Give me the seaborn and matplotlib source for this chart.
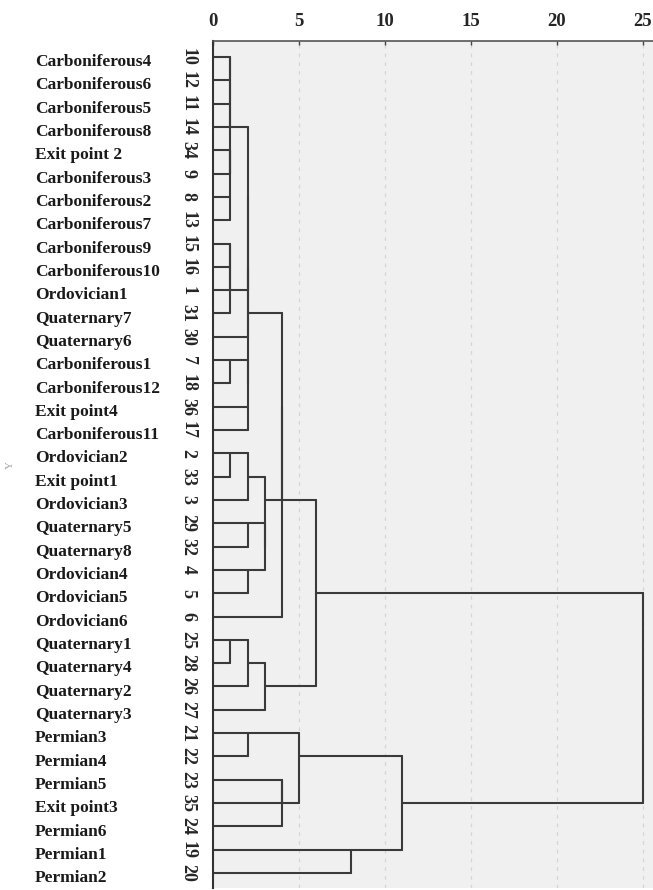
import matplotlib
matplotlib.use("Agg")
import matplotlib.pyplot as plt
import matplotlib.transforms as mtransforms
import seaborn as sns
import pandas as pd

# ---------------- data ----------------
leaf_ids = [10, 12, 11, 14, 34, 9, 8, 13, 15, 16, 1, 31, 30, 7, 18, 36, 17,
            2, 33, 3, 29, 32, 4, 5, 6, 25, 28, 26, 27, 21, 22, 23, 35, 24, 19, 20]

leaf_names = ["Carboniferous4", "Carboniferous6", "Carboniferous5", "Carboniferous8",
              "Exit point 2", "Carboniferous3", "Carboniferous2", "Carboniferous7",
              "Carboniferous9", "Carboniferous10", "Ordovician1", "Quaternary7",
              "Quaternary6", "Carboniferous1", "Carboniferous12", "Exit point4",
              "Carboniferous11", "Ordovician2", "Exit point1", "Ordovician3",
              "Quaternary5", "Quaternary8", "Ordovician4", "Ordovician5", "Ordovician6",
              "Quaternary1", "Quaternary4", "Quaternary2", "Quaternary3",
              "Permian3", "Permian4", "Permian5", "Exit point3", "Permian6",
              "Permian1", "Permian2"]

# merges: nodes 1..36 are cases, merge i creates node 36 + i + 1
merge_left = [10, 11, 34, 8, 37, 39, 41, 15, 44, 45, 7, 2, 25,
              43, 50, 36, 47, 51, 48, 29, 4, 49, 21,
              56, 55, 58, 54, 63, 23, 65, 59, 64, 19, 67, 68]
merge_right = [12, 14, 9, 13, 38, 40, 42, 16, 1, 31, 18, 33, 28,
               46, 30, 17, 52, 53, 3, 32, 5, 26, 22,
               57, 60, 27, 61, 6, 35, 24, 66, 62, 20, 69, 70]
merge_height = [1, 1, 1, 1, 1, 1, 1, 1, 1, 1, 1, 1, 1,
                2, 2, 2, 2, 2, 2, 2, 2, 2, 2,
                3, 3, 3, 4, 4, 4, 4, 5, 6, 8, 11, 25]

x_ticks = [0, 5, 10, 15, 20, 25]

# ---------------- build segments ----------------
n = len(leaf_ids)
row = {cid: i for i, cid in enumerate(leaf_ids)}
hgt = {cid: 0 for cid in leaf_ids}
segs = []
sid = 0
for i, (a, b, h) in enumerate(zip(merge_left, merge_right, merge_height)):
    node = n + i + 1
    for c in (a, b):
        segs.append((sid, hgt[c], row[c])); segs.append((sid, h, row[c])); sid += 1
    segs.append((sid, h, row[a])); segs.append((sid, h, row[b])); sid += 1
    row[node] = (row[a] + row[b]) // 2
    hgt[node] = h
df = pd.DataFrame(segs, columns=["seg", "x", "y"])

# ---------------- plot ----------------
sns.set_style("white")
plt.rcParams["font.family"] = ["Liberation Serif", "DejaVu Serif"]

fig = plt.figure(figsize=(6.53, 8.90), dpi=100)
L, T, B = 213.3 / 653, 41 / 890, 888 / 890
ax = fig.add_axes([L, 1 - B, 1 - L, B - T])
ax.set_facecolor("#f0f0f0")

for xv in x_ticks[1:]:
    ax.axvline(xv, color="#d6d6d6", lw=0.9, ls=(0, (3, 4)), zorder=0)

sns.lineplot(data=df, x="x", y="y", units="seg", estimator=None, sort=False,
             color="#3a3a3a", lw=1.5, ax=ax, legend=False)

px_per_unit = (642.7 - 213.3) / 25
row_px = (873 - 57) / 35
ax.set_xlim(0, (653 - 213.3) / px_per_unit)
ax.set_ylim(35 + (888 - 873) / row_px, -(57 - 41) / row_px)

ax.xaxis.tick_top()
ax.set_xticks(x_ticks)
ax.set_xticklabels([str(t) for t in x_ticks], fontsize=13.5, fontweight="bold")
ax.tick_params(axis="x", direction="in", length=3, width=1, color="#444", pad=8)

ax.set_yticks(range(n))
ax.set_yticklabels([str(c) for c in leaf_ids], rotation=-90, fontsize=13,
                   fontweight="bold", va="center")
ax.tick_params(axis="y", length=0, pad=12)
ax.set_xlabel("")
ax.set_ylabel("")

for s in ["right", "bottom"]:
    ax.spines[s].set_visible(False)
ax.spines["top"].set_color("#555")
ax.spines["top"].set_linewidth(1.2)
ax.spines["left"].set_color("#333")
ax.spines["left"].set_linewidth(1.5)

trans = mtransforms.blended_transform_factory(ax.transAxes, ax.transData)
for i, name in enumerate(leaf_names):
    ax.text(-0.4055, i + 0.22, name, transform=trans, ha="left", va="center",
            fontsize=12.5, fontweight="bold", color="#1a1a1a")

fig.text(10 / 653, 1 - 465 / 890, "Y", rotation=90, fontsize=8, color="#a0a0a0",
         ha="center", va="center")

fig.savefig("out.png", dpi=100)
